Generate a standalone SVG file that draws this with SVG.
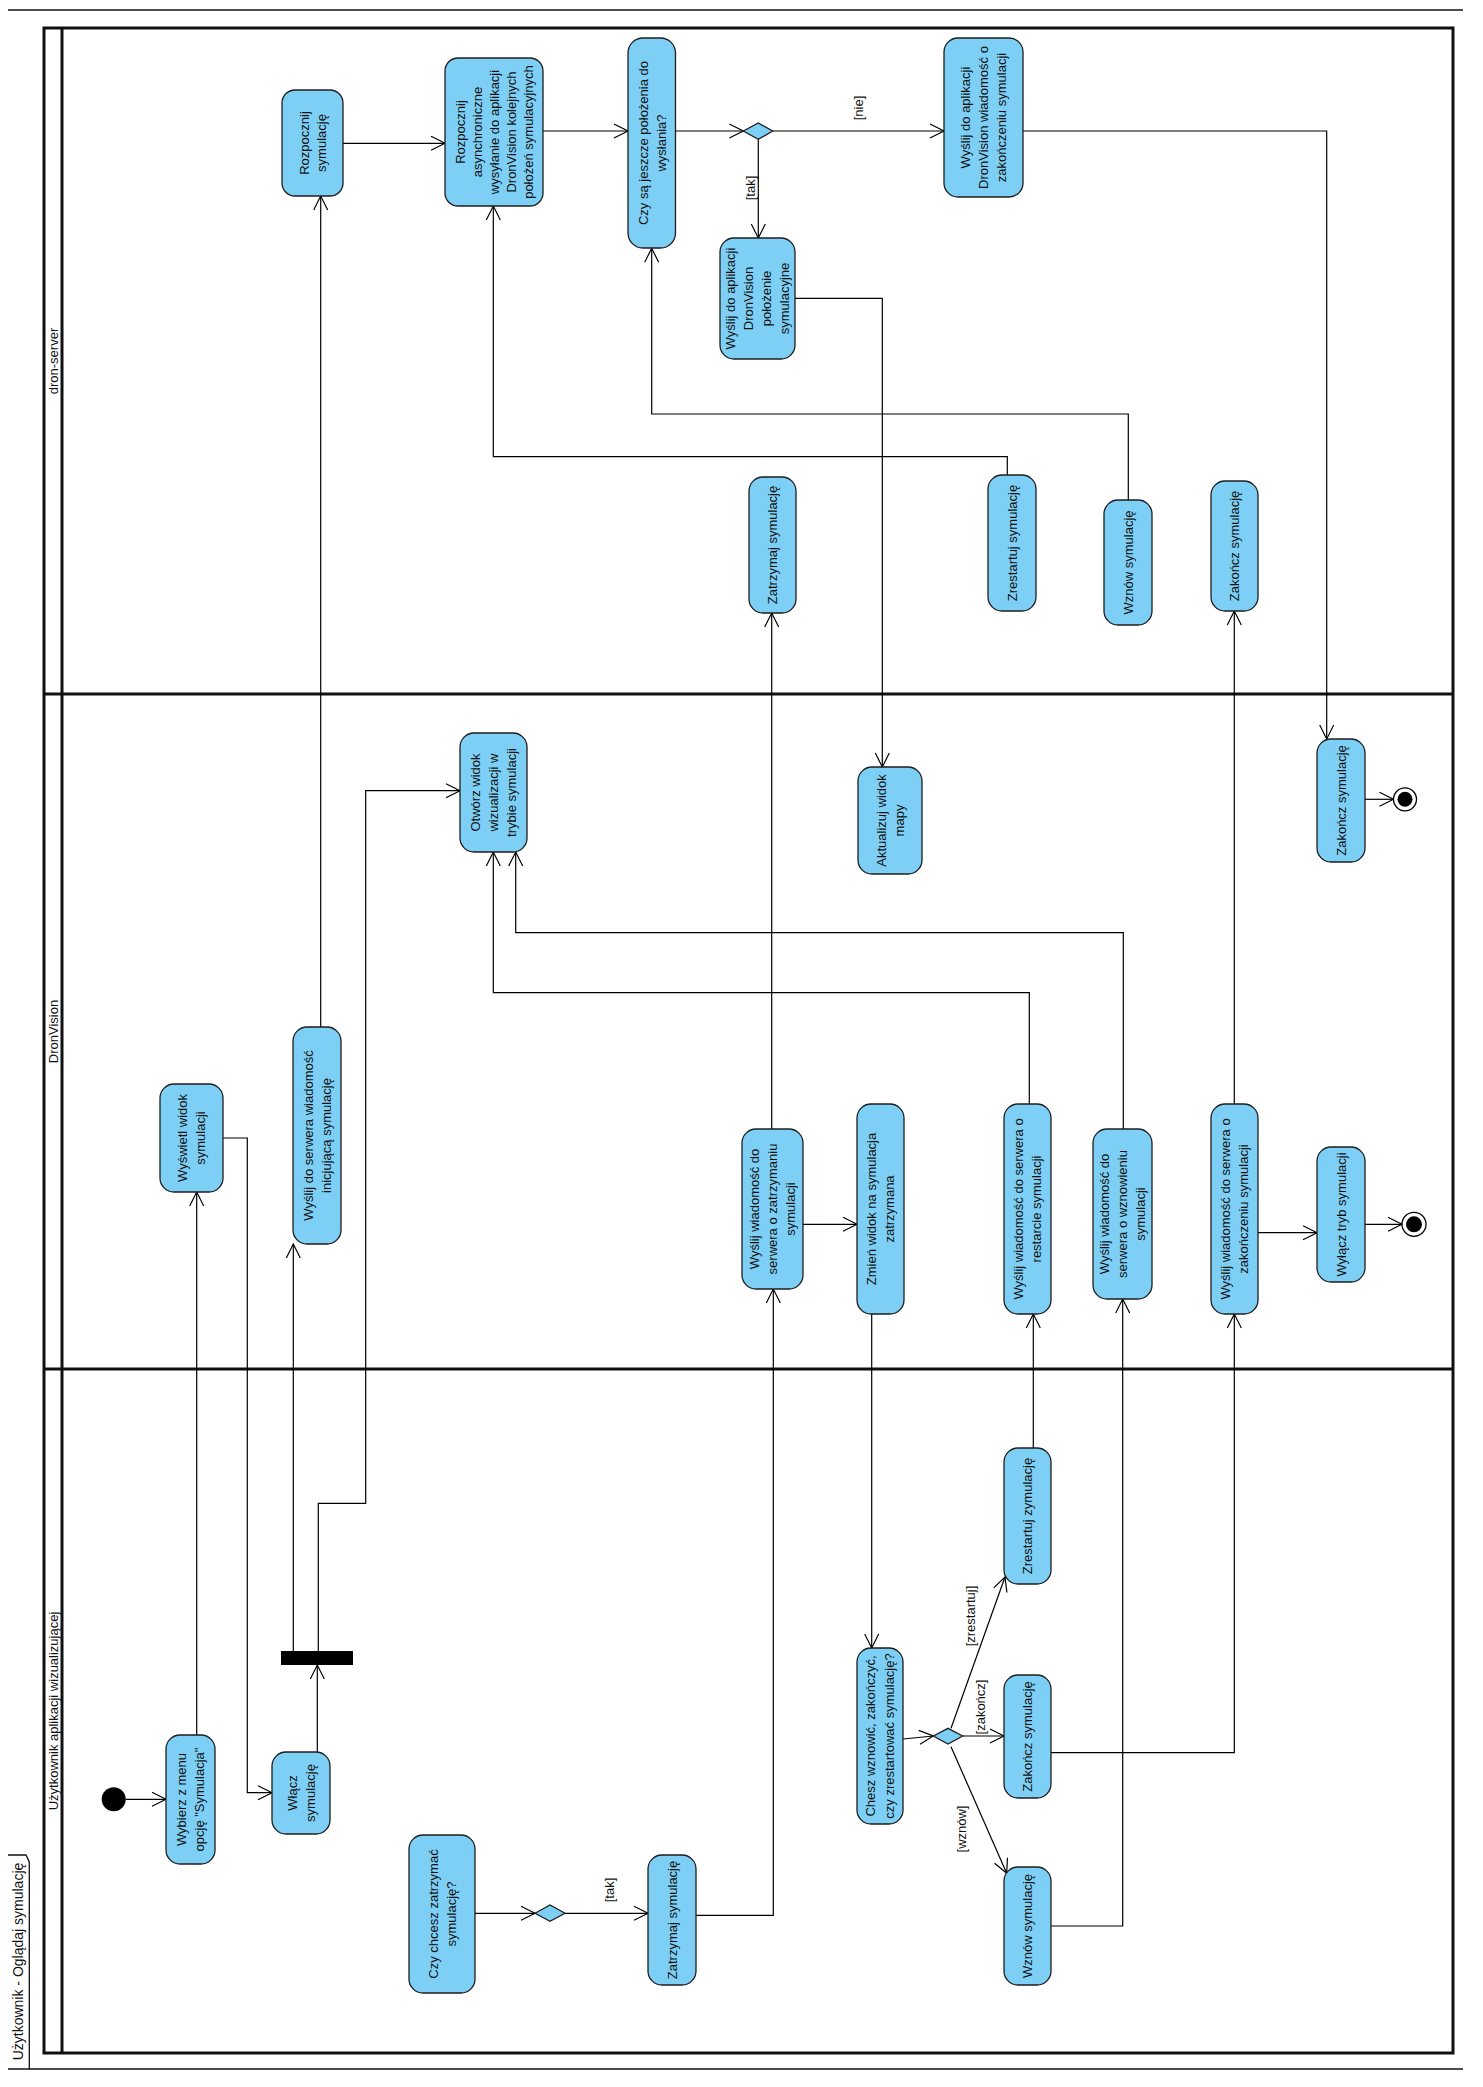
<svg xmlns="http://www.w3.org/2000/svg" width="1483" height="2087" viewBox="0 0 1483 2087">
<style>
.node{fill:#7dcff5;stroke:#1e1e1e;stroke-width:1.3}
.t{font-family:"Liberation Sans",Arial,sans-serif;font-size:13px;fill:#111;text-anchor:middle}
.lbl{font-family:"Liberation Sans",Arial,sans-serif;font-size:13px;fill:#111;text-anchor:middle}
.edge{fill:none;stroke:#000;stroke-width:1.2;marker-end:url(#arr)}
.thick{fill:none;stroke:#111;stroke-width:3}
.thin{fill:none;stroke:#111;stroke-width:1.3}
</style>
<defs>
<marker id="arr" markerUnits="userSpaceOnUse" markerWidth="18" markerHeight="18" viewBox="0 0 18 18" refX="15" refY="8" orient="auto">
<path d="M1,1 L15,8 L1,15" fill="none" stroke="#000" stroke-width="1.2"/>
</marker>
</defs>
<rect width="1483" height="2087" fill="#fff"/>
<g id="frame">
<line class="thin" x1="8" y1="10" x2="1463" y2="10"/>
<line class="thin" x1="8" y1="2069" x2="1463" y2="2069"/>
<path class="thin" d="M8,1855 L26,1855 L29.3,1862 L29.3,2069"/>
<g transform="translate(18,1961.5) rotate(-90)"><text class="t" style="font-size:14px" y="5">Użytkownik - Oglądaj symulację</text></g>
</g>
<g id="pool">
<rect class="thick" x="44" y="28" width="1409" height="2025"/>
<line class="thick" x1="62" y1="28" x2="62" y2="2053"/>
<line class="thick" x1="44" y1="694" x2="1453" y2="694"/>
<line class="thick" x1="44" y1="1369" x2="1453" y2="1369"/>
<g transform="translate(53,361) rotate(-90)"><text class="t" y="4.5">dron-server</text></g>
<g transform="translate(53,1031.5) rotate(-90)"><text class="t" y="4.5">DronVision</text></g>
<g transform="translate(53,1711) rotate(-90)"><text class="t" y="4.5">Użytkownik aplikacji wizualizującej</text></g>
</g>
<g id="connectors">
<path class="edge" d="M125.7,1799.3 L166,1799.3"/>
<path class="edge" d="M196.7,1735 L196.7,1192"/>
<path class="edge" d="M222.7,1138 L247.3,1138 L247.3,1792.7 L272,1792.7"/>
<path class="edge" d="M317.3,1752 L317.3,1665"/>
<path class="edge" d="M293.3,1651 L293.3,1244"/>
<path class="edge" d="M318.3,1651 L318.3,1503.3 L365.7,1503.3 L365.7,790.7 L460,790.7"/>
<path class="edge" d="M320.7,1027 L320.7,196"/>
<path class="edge" d="M343,143.3 L445,143.3"/>
<path class="edge" d="M543,131 L628,131"/>
<path class="edge" d="M675.7,131 L743.3,131"/>
<path class="edge" d="M772.7,131 L944,131"/>
<path class="edge" d="M758.3,139.3 L758.3,238"/>
<path class="edge" d="M795,298.3 L882.3,298.3 L882.3,767"/>
<path class="edge" d="M1023,131 L1326.7,131 L1326.7,739"/>
<path class="edge" d="M1365,799.3 L1393.5,799.3"/>
<path class="edge" d="M1007.3,475 L1007.3,456.7 L493.3,456.7 L493.3,206"/>
<path class="edge" d="M1128.3,500 L1128.3,414 L651.7,414 L651.7,248.3"/>
<path class="edge" d="M696,1915.3 L773.3,1915.3 L773.3,1289"/>
<path class="edge" d="M771.7,1129 L771.7,613"/>
<path class="edge" d="M803,1224.3 L857,1224.3"/>
<path class="edge" d="M871.7,1314 L871.7,1648"/>
<path class="edge" d="M475,1913.3 L535,1913.3"/>
<path class="edge" d="M565,1913.3 L648,1913.3"/>
<path class="edge" d="M903,1739 L933.3,1736"/>
<path class="edge" d="M962.7,1736 L1004,1736"/>
<path class="edge" d="M951,1728.3 L1005,1577"/>
<path class="edge" d="M951,1746.7 L1006.7,1873.3"/>
<path class="edge" d="M1051,1752.7 L1234.3,1752.7 L1234.3,1314"/>
<path class="edge" d="M1051,1926 L1122.7,1926 L1122.7,1299"/>
<path class="edge" d="M1033.3,1448 L1033.3,1314"/>
<path class="edge" d="M1029.3,1104 L1029.3,992.7 L493.3,992.7 L493.3,852"/>
<path class="edge" d="M1123.3,1129 L1123.3,932.7 L515.7,932.7 L515.7,852"/>
<path class="edge" d="M1234.3,1104 L1234.3,611"/>
<path class="edge" d="M1258,1232.7 L1317,1232.7"/>
<path class="edge" d="M1365,1224.3 L1402,1224.3"/>
<g transform="translate(858,108) rotate(-90)"><text class="lbl" y="4.5">[nie]</text></g>
<g transform="translate(750.5,188) rotate(-90)"><text class="lbl" y="4.5">[tak]</text></g>
<g transform="translate(609,1890) rotate(-90)"><text class="lbl" y="4.5">[tak]</text></g>
<g transform="translate(980,1707) rotate(-90)"><text class="lbl" y="4.5">[zakończ]</text></g>
<g transform="translate(970,1616) rotate(-90)"><text class="lbl" y="4.5">[zrestartuj]</text></g>
<g transform="translate(961,1829) rotate(-90)"><text class="lbl" y="4.5">[wznów]</text></g>
</g>
<g id="n1"><rect class="node" x="282" y="90" width="61" height="106" rx="13"/>
<g transform="translate(312.5,143) rotate(-90)"><text class="t" y="-4">Rozpocznij</text><text class="t" y="13">symulację</text></g></g>
<g id="n2"><rect class="node" x="445" y="58" width="98" height="148" rx="13"/>
<g transform="translate(494,132) rotate(-90)"><text class="t" y="-29.5">Rozpocznij</text><text class="t" y="-12.5">asynchroniczne</text><text class="t" y="4.5">wysyłanie do aplikacji</text><text class="t" y="21.5">DronVision kolejnych</text><text class="t" y="38.5">położeń symulacyjnych</text></g></g>
<g id="n3"><rect class="node" x="628" y="38" width="47.5" height="210" rx="15"/>
<g transform="translate(652,143) rotate(-90)"><text class="t" y="-4.5">Czy są jeszcze położenia do</text><text class="t" y="13.5">wysłania?</text></g></g>
<g id="d1"><path class="node" d="M743.3,131 L758.3,123 L772.7,131 L758.3,139.3 Z"/></g>
<g id="n5"><rect class="node" x="720" y="238" width="75" height="121" rx="14"/>
<g transform="translate(757.5,298.5) rotate(-90)"><text class="t" y="-22.5">Wyślij do aplikacji</text><text class="t" y="-4.5">DronVision</text><text class="t" y="13.5">położenie</text><text class="t" y="31.5">symulacyjne</text></g></g>
<g id="n6"><rect class="node" x="944" y="38" width="79" height="159" rx="14"/>
<g transform="translate(983.5,117.5) rotate(-90)"><text class="t" y="-13.5">Wyślij do aplikacji</text><text class="t" y="4.5">DronVision wiadomość o</text><text class="t" y="22.5">zakończeniu symulacji</text></g></g>
<g id="n7"><rect class="node" x="749" y="477" width="47" height="136" rx="14"/>
<g transform="translate(772.5,545) rotate(-90)"><text class="t" y="4.5">Zatrzymaj symulację</text></g></g>
<g id="n8"><rect class="node" x="988" y="475" width="48" height="136" rx="14"/>
<g transform="translate(1012,543) rotate(-90)"><text class="t" y="4.5">Zrestartuj symulację</text></g></g>
<g id="n9"><rect class="node" x="1104" y="500" width="48" height="125" rx="14"/>
<g transform="translate(1128,562.5) rotate(-90)"><text class="t" y="4.5">Wznów symulację</text></g></g>
<g id="n10"><rect class="node" x="1211" y="481" width="47" height="130" rx="14"/>
<g transform="translate(1234.5,546) rotate(-90)"><text class="t" y="4.5">Zakończ symulację</text></g></g>
<g id="n11"><rect class="node" x="460" y="733" width="67" height="119" rx="14"/>
<g transform="translate(493.5,792.5) rotate(-90)"><text class="t" y="-13.5">Otwórz widok</text><text class="t" y="4.5">wizualizacji w</text><text class="t" y="22.5">trybie symulacji</text></g></g>
<g id="n12"><rect class="node" x="858" y="767" width="64" height="107" rx="14"/>
<g transform="translate(890,820.5) rotate(-90)"><text class="t" y="-4.5">Aktualizuj widok</text><text class="t" y="13.5">mapy</text></g></g>
<g id="n13"><rect class="node" x="1317" y="739" width="48" height="123" rx="14"/>
<g transform="translate(1341,800.5) rotate(-90)"><text class="t" y="4.5">Zakończ symulację</text></g></g>
<g id="f1"><circle cx="1405" cy="799.3" r="11.5" fill="#fff" stroke="#000" stroke-width="1.3"/><circle cx="1405" cy="799.3" r="7.5" fill="#000"/></g>
<g id="n15"><rect class="node" x="160" y="1084" width="63" height="108" rx="14"/>
<g transform="translate(191.5,1138) rotate(-90)"><text class="t" y="-4.5">Wyświetl widok</text><text class="t" y="13.5">symulacji</text></g></g>
<g id="n16"><rect class="node" x="293" y="1027" width="48" height="217" rx="14"/>
<g transform="translate(317,1135.5) rotate(-90)"><text class="t" y="-4.5">Wyślij do serwera wiadomość</text><text class="t" y="13.5">inicjującą symulację</text></g></g>
<g id="n17"><rect class="node" x="742" y="1129" width="61" height="160" rx="14"/>
<g transform="translate(772.5,1209) rotate(-90)"><text class="t" y="-13.5">Wyślij wiadomość do</text><text class="t" y="4.5">serwera o zatrzymaniu</text><text class="t" y="22.5">symulacji</text></g></g>
<g id="n18"><rect class="node" x="857" y="1104" width="47" height="210" rx="14"/>
<g transform="translate(880.5,1209) rotate(-90)"><text class="t" y="-4.5">Zmień widok na symulacja</text><text class="t" y="13.5">zatrzymana</text></g></g>
<g id="n19"><rect class="node" x="1004" y="1104" width="47" height="210" rx="14"/>
<g transform="translate(1027.5,1209) rotate(-90)"><text class="t" y="-4.5">Wyślij wiadomość do serwera o</text><text class="t" y="13.5">restarcie symulacji</text></g></g>
<g id="n20"><rect class="node" x="1093" y="1129" width="59" height="170" rx="14"/>
<g transform="translate(1122.5,1214) rotate(-90)"><text class="t" y="-13.5">Wyślij wiadomość do</text><text class="t" y="4.5">serwera o wznowieniu</text><text class="t" y="22.5">symulacji</text></g></g>
<g id="n21"><rect class="node" x="1211" y="1104" width="47" height="210" rx="14"/>
<g transform="translate(1234.5,1209) rotate(-90)"><text class="t" y="-4.5">Wyślij wiadomość do serwera o</text><text class="t" y="13.5">zakończeniu symulacji</text></g></g>
<g id="n22"><rect class="node" x="1317" y="1147" width="48" height="135" rx="14"/>
<g transform="translate(1341,1214.5) rotate(-90)"><text class="t" y="4.5">Wyłącz tryb symulacji</text></g></g>
<g id="f2"><circle cx="1414" cy="1224.3" r="12" fill="#fff" stroke="#000" stroke-width="1.3"/><circle cx="1414" cy="1224.3" r="8" fill="#000"/></g>
<g id="fork"><rect x="281" y="1651" width="72" height="14" fill="#000"/></g>
<g id="start"><circle cx="113.7" cy="1799.3" r="12" fill="#000"/></g>
<g id="n26"><rect class="node" x="166" y="1735" width="49" height="129" rx="14"/>
<g transform="translate(190.5,1799.5) rotate(-90)"><text class="t" y="-4.5">Wybierz z menu</text><text class="t" y="13.5">opcję "Symulacja"</text></g></g>
<g id="n27"><rect class="node" x="272" y="1752" width="58" height="82" rx="14"/>
<g transform="translate(301,1793) rotate(-90)"><text class="t" y="-4.5">Włącz</text><text class="t" y="13.5">symulację</text></g></g>
<g id="n28"><rect class="node" x="409" y="1835" width="66" height="158" rx="14"/>
<g transform="translate(442,1914) rotate(-90)"><text class="t" y="-4.5">Czy chcesz zatrzymać</text><text class="t" y="13.5">symulację?</text></g></g>
<g id="d2"><path class="node" d="M535,1913.3 L550,1905 L565,1913.3 L550,1921.3 Z"/></g>
<g id="n30"><rect class="node" x="648" y="1855" width="48" height="130" rx="14"/>
<g transform="translate(672,1920) rotate(-90)"><text class="t" y="4.5">Zatrzymaj symulację</text></g></g>
<g id="n31"><rect class="node" x="857" y="1648" width="46" height="176" rx="14"/>
<g transform="translate(880,1736) rotate(-90)"><text class="t" y="-5">Chesz wznowić, zakończyć,</text><text class="t" y="14">czy zrestartować symulację?</text></g></g>
<g id="d3"><path class="node" d="M933.3,1736 L948,1728.3 L962.7,1736 L948,1744 Z"/></g>
<g id="n33"><rect class="node" x="1004" y="1448" width="47" height="136" rx="14"/>
<g transform="translate(1027.5,1516) rotate(-90)"><text class="t" y="4.5">Zrestartuj zymulację</text></g></g>
<g id="n34"><rect class="node" x="1004" y="1675" width="47" height="123" rx="14"/>
<g transform="translate(1027.5,1736.5) rotate(-90)"><text class="t" y="4.5">Zakończ symulację</text></g></g>
<g id="n35"><rect class="node" x="1004" y="1867" width="47" height="118" rx="14"/>
<g transform="translate(1027.5,1926) rotate(-90)"><text class="t" y="4.5">Wznów symulację</text></g></g>
</svg>
